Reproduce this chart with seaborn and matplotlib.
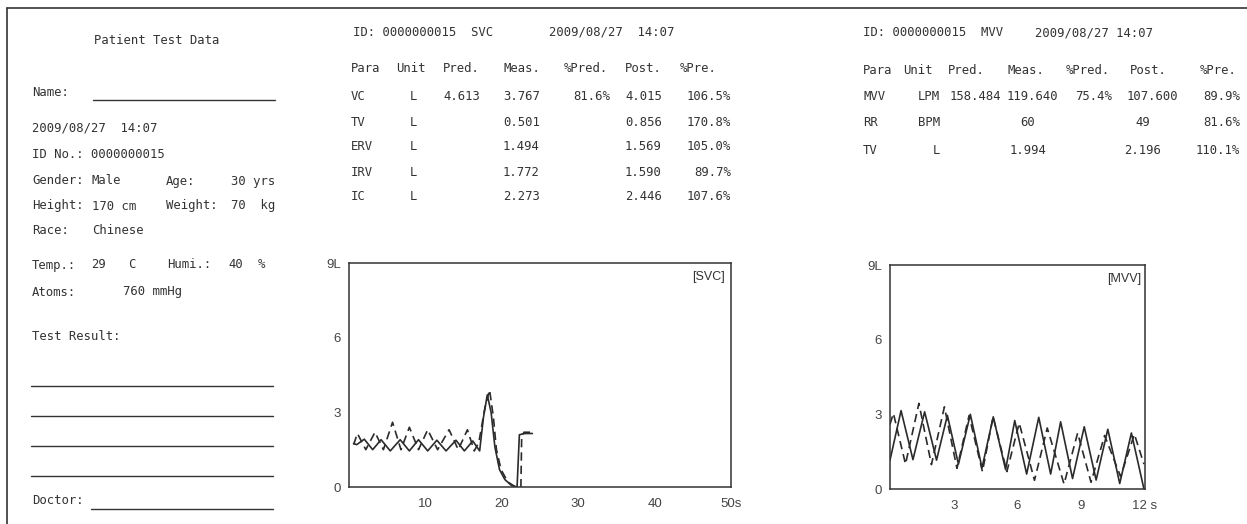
import pandas as pd
import matplotlib.pyplot as plt
import seaborn as sns
from matplotlib.lines import Line2D

# ---- data ----
# SVC trace (pre = solid, post = dashed), time in s, volume in L
svc_pre_t = [0.6, 1.0, 2.0, 3.1, 4.2, 5.4, 6.7, 7.9, 9.1, 10.3, 11.5, 12.7, 14.0, 15.1, 16.2, 17.1,
             17.6, 18.1, 18.6, 19.1, 19.7, 20.4, 21.2, 21.9, 22.0, 22.3, 23.0, 24.0]
svc_pre_v = [1.75, 1.7, 1.92, 1.5, 1.9, 1.45, 1.9, 1.45, 1.9, 1.45, 1.88, 1.45, 1.88, 1.45, 1.85, 1.45,
             2.8, 3.7, 3.0, 1.6, 0.7, 0.3, 0.08, 0.0, 0.0, 2.1, 2.15, 2.15]
svc_post_t = [0.6, 1.1, 2.2, 3.4, 4.5, 5.7, 6.8, 7.9, 9.1, 10.3, 11.6, 13.1, 14.3, 15.5, 16.4, 17.0,
              17.8, 18.4, 18.9, 19.3, 19.9, 20.8, 21.7, 22.5, 22.6, 22.9, 24.1]
svc_post_v = [1.7, 2.15, 1.5, 2.2, 1.5, 2.6, 1.5, 2.4, 1.5, 2.3, 1.5, 2.3, 1.5, 2.3, 1.45, 1.8,
              3.2, 3.9, 2.8, 1.5, 0.7, 0.2, 0.02, 0.0, 2.0, 2.2, 2.2]

# MVV trace
mvv_pre_t = [0.0, 0.52, 1.08, 1.63, 2.19, 2.7, 3.22, 3.78, 4.33, 4.86, 5.44, 5.87, 6.43, 7.0,
             7.56, 8.03, 8.59, 9.14, 9.70, 10.25, 10.81, 11.36, 11.95]
mvv_pre_v = [1.16, 3.15, 1.18, 3.1, 1.16, 2.96, 1.0, 3.0, 0.85, 2.9, 0.78, 2.75, 0.6, 2.88,
             0.6, 2.7, 0.42, 2.5, 0.36, 2.4, 0.22, 2.25, 0.0]
mvv_post_t = [0.0, 0.16, 0.73, 1.36, 1.95, 2.56, 3.15, 3.72, 4.35, 4.85, 5.5, 6.08, 6.8, 7.4,
              8.19, 8.83, 9.46, 10.1, 10.85, 11.5, 11.95]
mvv_post_v = [2.6, 3.04, 1.0, 3.44, 0.98, 3.3, 0.83, 2.95, 0.7, 2.9, 0.7, 2.65, 0.35, 2.45,
              0.2, 2.25, 0.27, 2.15, 0.5, 2.2, 1.0]

# tables
svc_rows = [
    ['VC', 'L', '4.613', '3.767', '81.6%', '4.015', '106.5%'],
    ['TV', 'L', '', '0.501', '', '0.856', '170.8%'],
    ['ERV', 'L', '', '1.494', '', '1.569', '105.0%'],
    ['IRV', 'L', '', '1.772', '', '1.590', '89.7%'],
    ['IC', 'L', '', '2.273', '', '2.446', '107.6%'],
]
mvv_rows = [
    ['MVV', 'LPM', '158.484', '119.640', '75.4%', '107.600', '89.9%'],
    ['RR', 'BPM', '', '60', '', '49', '81.6%'],
    ['TV', 'L', '', '1.994', '', '2.196', '110.1%'],
]
headers = ['Para', 'Unit', 'Pred.', 'Meas.', '%Pred.', 'Post.', '%Pre.']

W, H = 1247, 524
INK = '#333333'
MONO = 'DejaVu Sans Mono'

sns.set_style('white')
plt.rcParams['font.family'] = ['Liberation Sans', 'DejaVu Sans']

fig = plt.figure(figsize=(W / 100, H / 100), dpi=100)


def fx(x):
    return x / W


def fy(y):
    return 1 - y / H


def txt(x, y, s, ha='left', size=8.8):
    fig.text(fx(x), fy(y), s, ha=ha, va='center', fontsize=size, family=MONO, color=INK)


def hline(x0, x1, y, lw=1.0):
    fig.add_artist(Line2D([fx(x0), fx(x1)], [fy(y), fy(y)], transform=fig.transFigure,
                          color=INK, lw=lw))


# page frame
hline(7, W, 8, lw=1.2)
fig.add_artist(Line2D([fx(7), fx(7)], [fy(8), 0], transform=fig.transFigure, color=INK, lw=1.2))

# ---- left patient panel ----
txt(157, 41, 'Patient Test Data', ha='center')
txt(32, 92, 'Name:')
hline(93, 275, 100)
txt(32, 128, '2009/08/27  14:07')
txt(32, 154, 'ID No.: 0000000015')
txt(32, 181, 'Gender:')
txt(92, 181, 'Male')
txt(166, 181, 'Age:')
txt(275, 181, '30 yrs', ha='right')
txt(32, 206, 'Height:')
txt(92, 206, '170 cm')
txt(166, 206, 'Weight:')
txt(275, 206, '70  kg', ha='right')
txt(32, 230, 'Race:')
txt(92, 230, 'Chinese')
txt(32, 265, 'Temp.:')
txt(91, 265, '29')
txt(128, 265, 'C')
txt(167, 265, 'Humi.:')
txt(228, 265, '40')
txt(258, 265, '%')
txt(32, 292, 'Atoms:')
txt(123, 292, '760 mmHg')
txt(32, 336, 'Test Result:')
for yy in [386, 416, 446, 476]:
    hline(31, 273, yy)
txt(32, 500, 'Doctor:')
hline(91, 273, 509)

# ---- SVC table ----
txt(353, 32, 'ID: 0000000015  SVC')
txt(549, 32, '2009/08/27  14:07')
svc_hx = [351, 396, 443, 503, 564, 625, 680]
for h, x in zip(headers, svc_hx):
    txt(x, 68, h)
svc_y = [97, 123, 147, 172, 197]
for row, y in zip(svc_rows, svc_y):
    txt(351, y, row[0])
    txt(413, y, row[1], ha='center')
    txt(443, y, row[2])
    txt(503, y, row[3])
    txt(610, y, row[4], ha='right')
    txt(625, y, row[5])
    txt(731, y, row[6], ha='right')

# ---- MVV table ----
txt(863, 33, 'ID: 0000000015  MVV')
txt(1035, 33, '2009/08/27 14:07')
mvv_hx = [863, 903, 948, 1008, 1066, 1130, 1200]
for h, x in zip(headers, mvv_hx):
    txt(x, 70, h)
mvv_y = [97, 122, 151]
for row, y in zip(mvv_rows, mvv_y):
    txt(863, y, row[0])
    txt(940, y, row[1], ha='right')
    txt(950, y, row[2])
    if row[2]:
        txt(1007, y, row[3])
    else:
        txt(1028, y, row[3], ha='center')
    txt(1112, y, row[4], ha='right')
    if row[2]:
        txt(1127, y, row[5])
    else:
        txt(1143, y, row[5], ha='center')
    txt(1240, y, row[6], ha='right')


# ---- traces ----
def trace_frame(pre_t, pre_v, post_t, post_v):
    a = pd.DataFrame({'t': pre_t, 'vol': pre_v, 'run': 'Pre'})
    b = pd.DataFrame({'t': post_t, 'vol': post_v, 'run': 'Post'})
    return pd.concat([a, b], ignore_index=True)


def add_axes(x0, x1, y0, y1):
    return fig.add_axes([fx(x0), fy(y1), fx(x1 - x0), (y1 - y0) / H])


def style_axes(ax, xmax, xticks, xlabels, tag):
    ax.set_xlim(0, xmax)
    ax.set_ylim(0, 9)
    ax.set_yticks([0, 3, 6, 9])
    ax.set_yticklabels(['0', '3', '6', '9L'])
    ax.set_xticks(xticks)
    ax.set_xticklabels(xlabels)
    ax.set_xlabel('')
    ax.set_ylabel('')
    ax.tick_params(axis='x', direction='in', length=3, pad=8, labelsize=9.5,
                   colors=INK, labelcolor='#444444')
    ax.tick_params(axis='y', direction='out', length=2, pad=4, labelsize=9.5,
                   colors=INK, labelcolor='#444444')
    for sp in ax.spines.values():
        sp.set_color(INK)
        sp.set_linewidth(1.1)
    ax.text(0.985, 0.965, tag, transform=ax.transAxes, ha='right', va='top',
            fontsize=9, color=INK)


dash_map = {'Pre': '', 'Post': (5, 3)}

ax1 = add_axes(349, 731, 263, 487)
svc = trace_frame(svc_pre_t, svc_pre_v, svc_post_t, svc_post_v)
sns.lineplot(data=svc, x='t', y='vol', style='run', dashes=dash_map, color='#2b2b2b',
             estimator=None, sort=False, legend=False, lw=1.2, ax=ax1)
style_axes(ax1, 50, [10, 20, 30, 40, 50], ['10', '20', '30', '40', '50s'], '[SVC]')

ax2 = add_axes(890, 1145, 265, 489)
mvv = trace_frame(mvv_pre_t, mvv_pre_v, mvv_post_t, mvv_post_v)
sns.lineplot(data=mvv, x='t', y='vol', style='run', dashes=dash_map, color='#2b2b2b',
             estimator=None, sort=False, legend=False, lw=1.2, ax=ax2)
style_axes(ax2, 12, [3, 6, 9, 12], ['3', '6', '9', '12 s'], '[MVV]')

plt.savefig('out.png', dpi=100)
